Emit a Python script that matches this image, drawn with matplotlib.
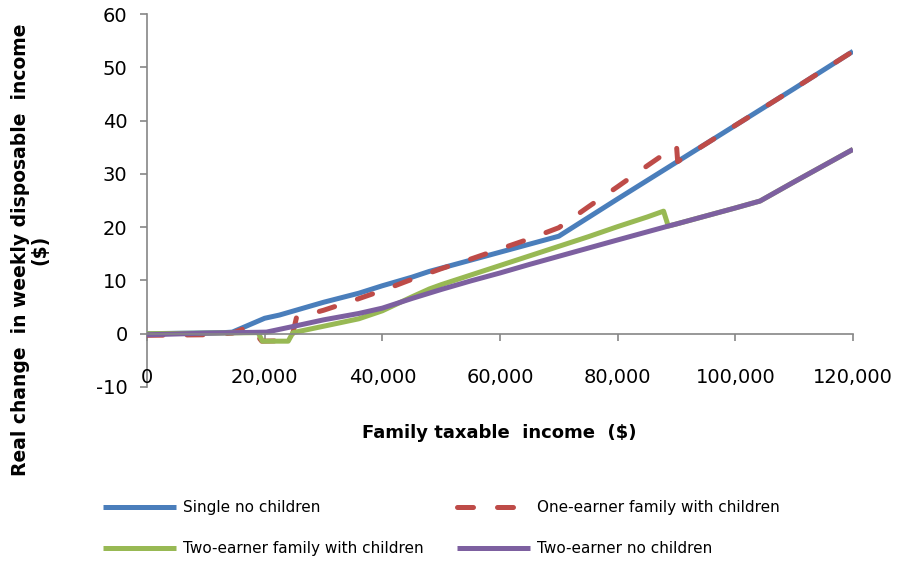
import matplotlib
matplotlib.use("Agg")
import matplotlib.pyplot as plt
from matplotlib.ticker import FuncFormatter

plt.rcParams["axes.unicode_minus"] = False

# data (income in $, change in $/week)
inc_single = [0, 13000, 14500, 20000, 22500, 25000, 30000, 36000, 40000, 45000, 48000,
              50000, 55000, 60000, 65000, 70000, 80000, 90000, 100000, 110000, 120000]
single = [0, 0.2, 0.3, 2.9, 3.5, 4.3, 5.9, 7.6, 9.0, 10.6, 11.7,
          12.3, 13.8, 15.3, 16.8, 18.3, 25.3, 32.2, 39.1, 46.0, 53.0]

inc_one = [0, 10000, 14500, 17500, 19500, 24500, 25400, 30000, 35000, 40000, 45000, 50000,
           55000, 60000, 65000, 70000, 75000, 80000, 85000, 90000, 90200, 100000, 110000, 120000]
one_earner = [-0.3, -0.2, 0.1, 1.4, -1.4, -1.3, 3.0, 4.4, 6.2, 8.1, 10.2, 12.2,
              14.0, 15.9, 17.8, 19.9, 23.8, 27.6, 31.5, 35.3, 32.3, 39.1, 46.0, 53.0]

inc_two_kids = [0, 10000, 18900, 19600, 24000, 24800, 30000, 36000, 40000, 45000, 48000, 50000,
                55000, 60000, 65000, 70000, 75000, 80000, 85000, 87800, 88600, 90000,
                100000, 104200, 110000, 120000]
two_kids = [0, 0.1, 0.2, -1.4, -1.4, 0.2, 1.4, 2.8, 4.3, 6.9, 8.4, 9.2,
            11.0, 12.8, 14.6, 16.4, 18.2, 20.1, 21.9, 23.0, 20.2, 20.6,
            23.6, 24.9, 28.5, 34.6]

inc_two_nokids = [0, 10000, 20300, 25000, 30000, 36000, 40000, 45000, 50000, 55000, 60000,
                  65000, 72500, 80000, 88600, 90000, 100000, 104200, 110000, 120000]
two_nokids = [-0.2, 0.1, 0.3, 1.4, 2.6, 3.8, 4.8, 6.6, 8.3, 9.9, 11.4,
              13.0, 15.3, 17.6, 20.2, 20.6, 23.6, 24.9, 28.5, 34.6]

labels = ["Single no children", "One-earner family with children",
          "Two-earner family with children", "Two-earner no children"]
colors = ["#4A7EBB", "#BE4B48", "#98B954", "#7D60A0"]

W, H = 899, 563
fig = plt.figure(figsize=(W / 100, H / 100), dpi=100)
ax = fig.add_axes([147 / W, 1 - 387 / H, 706 / W, 373 / H])

lw = 3.6
kw = dict(lw=lw, solid_joinstyle="round", solid_capstyle="butt")
l1, = ax.plot(inc_single, single, color=colors[0], **kw)
l2, = ax.plot(inc_one, one_earner, color=colors[1], lw=lw, dashes=(3.2, 4.8),
              dash_capstyle="round", dash_joinstyle="round")
l3, = ax.plot(inc_two_kids, two_kids, color=colors[2], **kw)
l4, = ax.plot(inc_two_nokids, two_nokids, color=colors[3], **kw)

ax.set_xlim(0, 120000)
ax.set_ylim(-10, 60)
ax.set_xticks(range(0, 120001, 20000))
ax.set_yticks(range(-10, 61, 10))
ax.xaxis.set_major_formatter(FuncFormatter(lambda v, p: f"{int(v):,}"))

grey = "#868686"
for s in ["top", "right"]:
    ax.spines[s].set_visible(False)
ax.spines["bottom"].set_position(("data", 0))
ax.spines["bottom"].set_color(grey)
ax.spines["left"].set_color(grey)
ax.spines["bottom"].set_linewidth(1.2)
ax.spines["left"].set_linewidth(1.2)
ax.spines["left"].set_zorder(0.5)
ax.tick_params(axis="y", direction="out", length=5, width=1.2, color=grey,
               labelsize=14, pad=9)
ax.tick_params(axis="x", direction="out", length=5, width=1.2, color=grey,
               labelsize=14, pad=20)
ax.patch.set_visible(False)

fig.text(499 / W, 1 - 433 / H, "Family taxable  income  ($)", ha="center", va="center",
         fontsize=13, fontweight="bold")
fig.text(30 / W, 1 - 250 / H, "Real change  in weekly disposable  income\n($)",
         ha="center", va="center", rotation=90, fontsize=13.5, fontweight="bold",
         linespacing=1.05)

leg_kw = dict(frameon=False, fontsize=11, handlelength=4.8, handletextpad=0.45,
              labelspacing=1.72, borderpad=0, borderaxespad=0, loc="upper left")
fig.legend([l1, l3], [labels[0], labels[2]], bbox_to_anchor=(103 / W, 1 - 500 / H), **leg_kw)
fig.legend([l2, l4], [labels[1], labels[3]], bbox_to_anchor=(457 / W, 1 - 500 / H), **leg_kw)

fig.savefig("out.png", dpi=100)
